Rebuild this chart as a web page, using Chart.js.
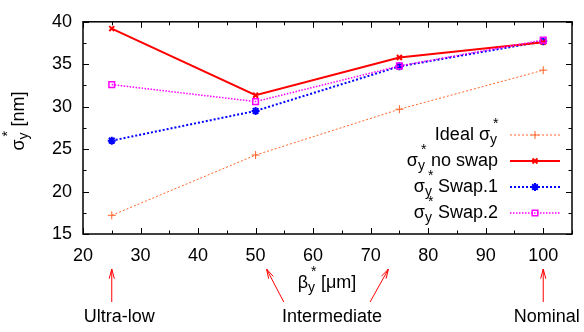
<!DOCTYPE html>
<html>
<head>
<meta charset="utf-8">
<script src="https://cdn.jsdelivr.net/npm/chart.js@4"></script>
<style>
  body { margin: 0; background: #fff; }
  canvas { display: block; }
</style>
</head>
<body>
<canvas id="chartSigma" width="584" height="332"></canvas>
<script>
/* values */
const betaY = [25, 50, 75, 100];
const idealSigma = [17.2, 24.3, 29.7, 34.3];
const noSwapSigma = [39.2, 31.35, 35.8, 37.6];
const swap1Sigma = [26.0, 29.5, 34.75, 37.7];
const swap2Sigma = [32.6, 30.6, 34.8, 37.85];

const xTicks = [20, 30, 40, 50, 60, 70, 80, 90, 100];
const yTicks = [15, 20, 25, 30, 35, 40];

// annotation arrows below the x axis: [label, [[base x, tip x], ...]]
const noteLabels = ["Ultra-low", "Intermediate", "Nominal"];
const noteLabelX = [26.3, 63.3, 100.6];
const noteArrows = [[[25, 25]], [[54.9, 51.9], [69.9, 73.1]], [[100, 100]]];

const FONT = "'Liberation Sans', Arial, sans-serif";
const orange = "rgb(255,100,40)";
const TXT = 18;

function pts(ys) {
    return betaY.map((x, i) => ({ x: x, y: ys[i] }));
}

// text pieces: plain, sub, sup (sub/sup stacked like gnuplot)
function richParts(s) {
    // "σ_y^*" -> σ, sub y, sup *
    const out = [];
    let i = 0;
    while (i < s.length) {
        if (s[i] === "_" && s[i + 2] === "^") {
            out.push({ t: s[i + 1], sub: true, sup: s[i + 3] });
            i += 4;
        } else {
            if (out.length && out[out.length - 1].plain) { out[out.length - 1].t += s[i]; }
            else { out.push({ t: s[i], plain: true }); }
            i++;
        }
    }
    return out;
}
function richWidth(ctx, parts, size) {
    let w = 0;
    parts.forEach(p => {
        if (p.plain) { ctx.font = size + "px " + FONT; w += ctx.measureText(p.t).width; }
        else {
            ctx.font = Math.round(size * 0.8) + "px " + FONT;
            w += Math.max(ctx.measureText(p.t).width, ctx.measureText(p.sup).width) + 1;
        }
    });
    return w;
}
function drawRich(ctx, s, x, y, size, align) {
    const parts = richParts(s);
    const w = richWidth(ctx, parts, size);
    let cx = align === "right" ? x - w : (align === "center" ? x - w / 2 : x);
    ctx.textBaseline = "middle";
    ctx.textAlign = "left";
    parts.forEach(p => {
        if (p.plain) {
            ctx.font = size + "px " + FONT;
            ctx.fillText(p.t, cx, y);
            cx += ctx.measureText(p.t).width;
        } else {
            ctx.font = Math.round(size * 0.8) + "px " + FONT;
            ctx.fillText(p.t, cx, y + size * 0.3);
            ctx.fillText(p.sup, cx + 3, y - size * 0.62);
            cx += Math.max(ctx.measureText(p.t).width, ctx.measureText(p.sup).width) + 1;
        }
    });
}

const frameAndNotes = {
    id: "frameAndNotes",
    beforeDatasetsDraw(chart) {
        const ctx = chart.ctx;
        const a = chart.chartArea;
        const xs = chart.scales.x, ys = chart.scales.y;
        ctx.save();
        ctx.strokeStyle = "#000";
        ctx.lineWidth = 1;
        // inward ticks on all four sides
        ctx.beginPath();
        for (let v = 20; v <= 105; v += 5) {
            const px = Math.round(xs.getPixelForValue(v)) + 0.5;
            const len = v % 10 === 0 ? 6 : 3.5;
            ctx.moveTo(px, a.bottom); ctx.lineTo(px, a.bottom - len);
            ctx.moveTo(px, a.top); ctx.lineTo(px, a.top + len);
        }
        for (let v = 15; v <= 40; v += 2.5) {
            const py = Math.round(ys.getPixelForValue(v)) + 0.5;
            const len = v % 5 === 0 ? 6 : 3.5;
            ctx.moveTo(a.left, py); ctx.lineTo(a.left + len, py);
            ctx.moveTo(a.right, py); ctx.lineTo(a.right - len, py);
        }
        ctx.stroke();
        ctx.lineWidth = 1.5;
        ctx.strokeRect(a.left, a.top, a.right - a.left, a.bottom - a.top);
        ctx.restore();
    },
    afterDraw(chart) {
        const ctx = chart.ctx;
        const xs = chart.scales.x, ys = chart.scales.y;
        ctx.save();
        ctx.fillStyle = "#000";
        // axis titles
        drawRich(ctx, "β_y^* [μm]", 327, 283, TXT, "center");
        ctx.save();
        ctx.translate(19, 121);
        ctx.rotate(-Math.PI / 2);
        drawRich(ctx, "σ_y^* [nm]", 0, 0, TXT, "center");
        ctx.restore();

        // legend, text right aligned, sample on the right
        const rowsY = [135, 161, 187, 213];
        chart.data.datasets.forEach((ds, i) => {
            const y = rowsY[i];
            ctx.fillStyle = "#000";
            drawRich(ctx, ds.label, 498, y, TXT, "right");
            ctx.strokeStyle = ds.borderColor;
            ctx.lineWidth = ds.borderWidth;
            ctx.setLineDash(ds.borderDash || []);
            ctx.beginPath();
            ctx.moveTo(510, y); ctx.lineTo(560, y);
            ctx.stroke();
            ctx.setLineDash([]);
            ctx.lineWidth = ds.pointBorderWidth;
            ctx.fillStyle = "rgba(0,0,0,0)";
            Chart.helpers.drawPoint(ctx, {
                pointStyle: ds.pointStyle, radius: ds.pointRadius,
                rotation: 0, borderWidth: ds.pointBorderWidth
            }, 535, y);
        });

        // annotations with arrows
        ctx.strokeStyle = "#ff0000";
        ctx.lineWidth = 1;
        noteArrows.forEach((arrs, k) => {
            arrs.forEach(ar => {
                const x0 = xs.getPixelForValue(ar[0]), x1 = xs.getPixelForValue(ar[1]);
                const y0 = 302, y1 = 269;
                const ang = Math.atan2(y1 - y0, x1 - x0);
                ctx.beginPath();
                ctx.moveTo(x0, y0); ctx.lineTo(x1, y1);
                const hl = 10, hw = 0.26;
                ctx.moveTo(x1 - hl * Math.cos(ang - hw), y1 - hl * Math.sin(ang - hw));
                ctx.lineTo(x1, y1);
                ctx.lineTo(x1 - hl * Math.cos(ang + hw), y1 - hl * Math.sin(ang + hw));
                ctx.stroke();
            });
            ctx.fillStyle = "#000";
            ctx.font = TXT + "px " + FONT;
            ctx.textAlign = "center";
            ctx.textBaseline = "middle";
            ctx.fillText(noteLabels[k], xs.getPixelForValue(noteLabelX[k]), 317);
        });
        ctx.restore();
    }
};

var ctx = document.getElementById("chartSigma").getContext("2d");
var chartSigma = new Chart(ctx, {
    type: "line",
    data: {
        datasets: [
            {
                label: "Ideal σ_y^*",
                data: pts(idealSigma),
                borderColor: orange,
                borderWidth: 1,
                borderDash: [2, 2],
                pointStyle: "cross",
                pointRadius: 4,
                pointBorderWidth: 1,
                pointBorderColor: orange,
                pointBackgroundColor: "rgba(0,0,0,0)",
                order: 3
            },
            {
                label: "σ_y^* no swap",
                data: pts(noSwapSigma),
                borderColor: "#ff0000",
                borderWidth: 2,
                pointStyle: "crossRot",
                pointRadius: 3.5,
                pointBorderWidth: 2,
                pointBorderColor: "#ff0000",
                pointBackgroundColor: "rgba(0,0,0,0)",
                order: 1
            },
            {
                label: "σ_y^* Swap.1",
                data: pts(swap1Sigma),
                borderColor: "#0000ff",
                borderWidth: 2,
                borderDash: [2, 2],
                pointStyle: "star",
                pointRadius: 4,
                pointBorderWidth: 2,
                pointBorderColor: "#0000ff",
                pointBackgroundColor: "rgba(0,0,0,0)",
                order: 2
            },
            {
                label: "σ_y^* Swap.2",
                data: pts(swap2Sigma),
                borderColor: "#ff00ff",
                borderWidth: 1.5,
                borderDash: [1.5, 1.5],
                pointStyle: "rect",
                pointRadius: 4,
                pointBorderWidth: 1.5,
                pointBorderColor: "#ff00ff",
                pointBackgroundColor: "rgba(0,0,0,0)",
                order: 0
            }
        ]
    },
    options: {
        responsive: false,
        animation: false,
        layout: { padding: { top: 10, right: 12 } },
        plugins: { legend: { display: false }, tooltip: { enabled: false } },
        elements: { line: { tension: 0 } },
        scales: {
            x: {
                type: "linear",
                min: 20,
                max: 105,
                afterBuildTicks: s => { s.ticks = xTicks.map(v => ({ value: v })); },
                afterFit: s => { s.height = 98; },
                grid: { display: false, drawTicks: false, tickLength: 0 },
                border: { display: false },
                ticks: { color: "#000", font: { family: FONT, size: TXT }, padding: 11, maxRotation: 0 }
            },
            y: {
                type: "linear",
                min: 15,
                max: 40,
                afterBuildTicks: s => { s.ticks = yTicks.map(v => ({ value: v })); },
                afterFit: s => { s.width = 83; },
                grid: { display: false, drawTicks: false, tickLength: 0 },
                border: { display: false },
                ticks: { color: "#000", font: { family: FONT, size: TXT }, padding: 11 }
            }
        }
    },
    plugins: [frameAndNotes]
});
</script>
</body>
</html>
